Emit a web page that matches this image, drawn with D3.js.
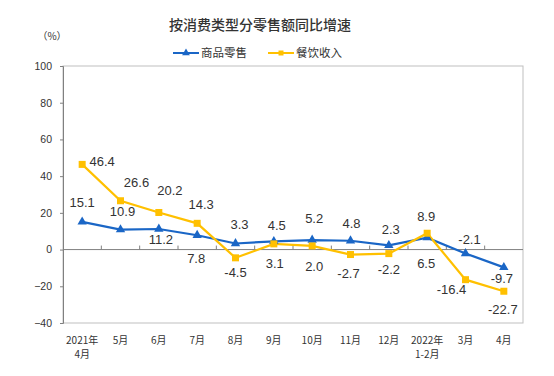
<!DOCTYPE html>
<html>
<head>
<meta charset="utf-8">
<script src="https://cdn.jsdelivr.net/npm/d3@7"></script>
<style>
body { margin: 0; background: #fff; }
text { fill: #333; }
</style>
</head>
<body>
<svg width="554" height="376"></svg>
<script>
// data
var months = ["2021年|4月", "5月", "6月", "7月", "8月", "9月", "10月", "11月", "12月", "2022年|1-2月", "3月", "4月"];
var retail = [15.1, 10.9, 11.2, 7.8, 3.3, 4.5, 5.2, 4.8, 2.3, 6.5, -2.1, -9.7];
var catering = [46.4, 26.6, 20.2, 14.3, -4.5, 3.1, 2.0, -2.7, -2.2, 8.9, -16.4, -22.7];
var yTicks = [-40, -20, 0, 20, 40, 60, 80, 100];

// label nudges (dx, dy) from each point
var retailOff = [[0,-19],[2,-18],[2,10],[-1,23],[4,-19],[3,-16],[2,-22],[1,-17],[2,-16],[-1,26],[4,-14],[-2,11]];
var cateringOff = [[20,-3],[16,-18],[11,-22],[4,-19],[0,15],[1,20],[2,21],[-2,19],[0,16],[-1,-17],[-14,10],[-1,18]];

var blue = "#1a66c6", gold = "#ffc000";
var pLeft = 63, pRight = 523, pTop = 66, pBottom = 323;

var svg = d3.select("svg");

var x = d3.scaleBand().domain(d3.range(months.length)).range([pLeft, pRight]);
var y = d3.scaleLinear().domain([-40, 100]).range([pBottom, pTop]);
var cx = function(i) { return x(i) + x.bandwidth() / 2; };

// frame
svg.append("rect")
  .attr("x", pLeft).attr("y", pTop)
  .attr("width", pRight - pLeft).attr("height", pBottom - pTop)
  .attr("fill", "none").attr("stroke", "#bfbfbf");

// y axis
var yAxis = svg.append("g")
  .attr("transform", "translate(" + pLeft + ",0)")
  .call(d3.axisLeft(y).tickValues(yTicks).tickSize(3).tickPadding(8));
yAxis.select(".domain").attr("stroke", "#808080");
yAxis.selectAll(".tick line").attr("stroke", "#808080");
yAxis.selectAll(".tick text")
  .style("font-family", "Liberation Sans, Arial, sans-serif")
  .style("font-size", "10.5px").attr("fill", "#333");

// zero line + category ticks
svg.append("line")
  .attr("x1", pLeft).attr("x2", pRight)
  .attr("y1", y(0)).attr("y2", y(0))
  .attr("stroke", "#808080");
svg.append("g").selectAll("line")
  .data(d3.range(1, months.length))
  .enter().append("line")
  .attr("x1", function(d) { return pLeft + d * x.step(); })
  .attr("x2", function(d) { return pLeft + d * x.step(); })
  .attr("y1", y(0)).attr("y2", y(0) - 4)
  .attr("stroke", "#808080");

// x labels
var xl = svg.append("g").selectAll("text")
  .data(months)
  .enter().append("text")
  .attr("text-anchor", "middle")
  .style("font-family", "Noto Sans CJK SC, sans-serif")
  .style("font-size", "10px")
  .attr("fill", "#333");
xl.each(function(d, i) {
  var parts = d.split("|");
  var t = d3.select(this);
  parts.forEach(function(p, k) {
    t.append("tspan").attr("x", cx(i)).attr("y", 344 + k * 14).text(p);
  });
});

// lines
var line = d3.line().x(function(d, i) { return cx(i); }).y(function(d) { return y(d); });

svg.append("path").datum(retail)
  .attr("d", line).attr("fill", "none")
  .attr("stroke", blue).attr("stroke-width", 2.2);
svg.append("path").datum(catering)
  .attr("d", line).attr("fill", "none")
  .attr("stroke", gold).attr("stroke-width", 2.2);

// markers
var tri = d3.symbol().type(d3.symbolTriangle).size(38);
svg.append("g").selectAll("path")
  .data(retail)
  .enter().append("path")
  .attr("d", tri)
  .attr("transform", function(d, i) { return "translate(" + cx(i) + "," + y(d) + ")"; })
  .attr("fill", blue);

svg.append("g").selectAll("rect")
  .data(catering)
  .enter().append("rect")
  .attr("x", function(d, i) { return cx(i) - 3.5; })
  .attr("y", function(d) { return y(d) - 3.5; })
  .attr("width", 7).attr("height", 7)
  .attr("fill", gold);

// value labels
function labels(vals, off) {
  svg.append("g").selectAll("text")
    .data(vals)
    .enter().append("text")
    .attr("x", function(d, i) { return cx(i) + off[i][0]; })
    .attr("y", function(d, i) { return y(d) + off[i][1]; })
    .attr("dy", "0.35em")
    .attr("text-anchor", "middle")
    .style("font-family", "Liberation Sans, Arial, sans-serif")
    .style("font-size", "13px")
    .attr("fill", "#333")
    .text(function(d) { return d.toFixed(1); });
}
labels(retail, retailOff);
labels(catering, cateringOff);

// title
svg.append("text")
  .attr("x", 260).attr("y", 30)
  .attr("text-anchor", "middle")
  .style("font-family", "Noto Sans CJK SC, sans-serif")
  .style("font-size", "14px")
  .style("font-weight", "500")
  .attr("fill", "#222")
  .text("按消费类型分零售额同比增速");

// unit
svg.append("text")
  .attr("x", 52).attr("y", 40)
  .attr("text-anchor", "middle")
  .style("font-family", "Noto Sans CJK SC, sans-serif")
  .style("font-size", "10px")
  .attr("fill", "#333")
  .text("（%）");

// legend
var legend = [
  { name: "商品零售", color: blue, x: 173, mark: "tri" },
  { name: "餐饮收入", color: gold, x: 268, mark: "sq" }
];
var lg = svg.append("g").selectAll("g")
  .data(legend)
  .enter().append("g")
  .attr("transform", function(d) { return "translate(" + d.x + ",53)"; });
lg.append("line").attr("x1", 0).attr("x2", 26)
  .attr("stroke", function(d) { return d.color; }).attr("stroke-width", 2);
lg.append("path")
  .attr("d", function(d) {
    return d.mark == "tri" ? d3.symbol().type(d3.symbolTriangle).size(26)() : d3.symbol().type(d3.symbolSquare).size(25)();
  })
  .attr("transform", "translate(13,0)")
  .attr("fill", function(d) { return d.color; });
lg.append("text")
  .attr("x", 28).attr("dy", "0.35em")
  .style("font-family", "Noto Sans CJK SC, sans-serif")
  .style("font-size", "11.5px")
  .attr("fill", "#404040")
  .text(function(d) { return d.name; });
</script>
</body>
</html>
